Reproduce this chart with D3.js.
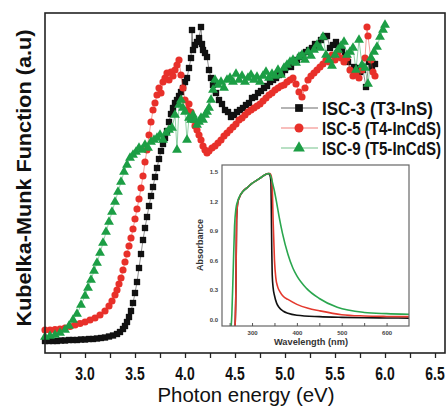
<!DOCTYPE html>
<html><head><meta charset="utf-8">
<script src="https://cdn.jsdelivr.net/npm/d3@7"></script>
<style>
body{margin:0;background:#fff}
svg text{font-family:"Liberation Sans",Arial,sans-serif}
</style>
</head><body>
<svg id="chart" width="446" height="407"></svg>
<script>
// ---------- main chart data: photon energy (eV) vs Kubelka-Munk function (a.u.) ----------
const energyISC3 = [2.60,2.64,2.68,2.72,2.76,2.80,2.84,2.88,2.92,2.96,3.00,3.04,3.08,3.12,3.16,3.20,3.24,3.28,3.32,
 3.35,3.38,
 3.40,3.42,3.44,3.46,3.48,3.50,3.52,3.54,3.56,3.58,3.60,3.62,3.64,3.66,3.68,3.70,3.72,3.74,3.76,3.78,3.80,3.82,3.84,3.86,3.88,3.90,3.92,3.94,3.96,3.98,4.00,4.02,4.04,4.06,
 4.07,4.08,4.10,4.12,4.14,4.16,4.17,4.18,
 4.20,4.22,4.24,4.26,4.28,
 4.31,4.34,4.37,4.40,4.43,4.46,4.49,4.52,4.55,4.58,4.61,4.64,4.67,4.70,4.73,4.76,4.79,4.82,4.85,4.88,4.91,4.94,4.97,5.00,5.03,5.06,5.09,5.12,5.15,5.18,5.21,5.24,5.27,5.30,5.33,5.36,5.39,5.42,5.45,5.48,5.51,5.54,5.57,5.60,5.63,5.66,5.69,5.72,5.75,5.78,5.81,5.84,5.87,5.90];
const kmISC3 = [12,12,12,12,12.5,12.5,13,13,13,13.5,13.5,14,14,14.5,15,15.5,16.5,17.5,19,
 21,24,
 27,31,36,42,50,60,71,85,99,113,125,136,147,157,166,176,185,194,202,209,215,222,231,239,245,250,253,257,261,265,271,275,285,295,
 323,303,308,311,315,326,309,303,
 300,296,283,275,268,
 260,253,249,243,241,236,238,241,243,245,248,250,255,256,260,262,265,267,271,273,275,278,280,283,287,286,291,293,296,298,301,303,305,309,307,313,316,317,305,308,311,307,303,297,291,283,286,285,281,283,266,291,285,289];

const energyISC5 = [2.60,2.65,2.70,2.75,2.80,2.85,2.90,2.95,3.00,3.05,3.10,3.15,3.20,3.24,3.27,3.30,
 3.32,3.34,3.36,3.38,3.40,3.42,3.44,3.46,3.48,3.50,3.52,3.54,3.56,3.58,3.60,3.62,3.64,3.66,3.68,3.70,3.72,3.74,3.76,3.78,3.80,3.82,3.84,3.86,3.88,3.90,3.92,3.94,3.96,3.98,4.00,4.02,4.04,4.06,4.08,4.10,4.12,4.14,4.16,4.18,4.20,4.22,
 4.24,
 4.27,4.30,4.33,4.36,4.39,4.42,4.45,4.48,4.51,4.54,4.57,4.60,4.63,4.66,4.69,4.72,4.75,4.78,4.81,4.84,4.87,4.90,4.93,4.96,4.99,5.02,5.05,5.08,5.11,5.14,5.17,5.20,5.23,5.26,5.29,5.32,5.35,5.38,5.41,5.44,5.47,5.50,5.53,5.56,5.59,5.62,5.65,5.68,5.71,5.74,5.77,5.80,
 5.82,5.83,5.86,5.88,5.90];
const kmISC5 = [23,23,23.5,24,25,26.5,28,29.5,31,33,35,38,42,47,52,58,
 63,69,75,83,91,99,107,115,124,134,144,154,165,177,191,203,218,231,243,250,258,265,260,271,275,280,273,281,277,283,288,293,278,265,253,243,249,241,233,227,223,218,213,207,203,200,
 202,
 205,207,210,213,217,220,223,226,229,233,235,238,241,243,245,247,249,252,255,258,260,263,265,267,268,271,273,275,269,261,256,265,273,277,280,283,286,289,293,291,298,293,301,295,291,295,283,277,280,275,283,295,
 326,317,293,281,277];

const energyISC9 = [2.60,2.65,2.70,2.75,2.80,
 2.84,2.88,2.92,2.96,3.00,
 3.03,3.06,3.09,3.12,3.15,3.18,3.21,3.24,3.27,3.30,3.33,3.36,3.39,3.42,3.45,3.48,3.51,3.54,3.57,3.60,3.63,3.66,3.69,3.72,3.75,3.78,3.81,3.84,3.87,3.90,
 3.92,3.94,3.96,3.98,4.00,4.02,4.04,4.06,4.08,4.10,4.12,4.14,4.16,4.18,4.20,4.22,4.24,4.26,4.28,4.30,
 4.33,4.36,4.39,4.42,4.45,4.48,4.51,4.54,4.57,4.60,4.63,4.66,4.69,4.72,4.75,4.78,4.81,4.84,4.87,4.90,4.93,4.96,4.99,5.02,5.05,5.08,5.11,5.14,5.17,5.20,5.23,5.26,5.29,5.32,5.35,5.38,5.41,5.44,5.47,5.50,5.53,5.56,5.59,5.62,5.65,5.68,5.71,5.74,5.77,5.80,5.83,5.86,5.89,5.92,5.95,5.98,
 6.00];
const kmISC9 = [16,17,18,20,23,
 27,33,39,48,57,
 65,73,82,90,100,110,121,131,141,151,161,171,181,188,195,198,201,205,203,208,205,211,213,215,218,213,220,223,225,238,
 203,248,253,245,241,213,235,233,238,233,228,231,235,233,238,241,245,253,263,273,
 268,271,265,273,275,271,279,273,277,271,275,278,273,276,271,277,281,275,279,277,283,278,285,288,291,293,290,296,298,293,301,297,303,308,305,316,298,293,287,298,303,307,311,298,301,305,283,313,288,285,269,295,301,306,316,323,
 328];

const seriesNames = ["ISC-3 (T3-InS)", "ISC-5 (T4-InCdS)", "ISC-9 (T5-InCdS)"];
const seriesColors = ["#111111", "#e8302a", "#1c9e45"];
const seriesShapes = ["square", "circle", "triangle"];

const energyTicks = [2.75,3.0,3.25,3.5,3.75,4.0,4.25,4.5,4.75,5.0,5.25,5.5,5.75,6.0,6.25,6.5];
const energyTickLabels = ["", "3.0", "", "3.5", "", "4.0", "", "4.5", "", "5.0", "", "5.5", "", "6.0", "", "6.5"];

// ---------- inset data: wavelength (nm) vs absorbance ----------
const insetWlISC3 = [262,264,265.5,268,272,280,290,300,310,320,330,336,340,342,343,344,345,347,350,355,360,370,380,400,450,500,550,600,650];
const insetAbsISC3 = [-0.1,0.3,1.0,1.18,1.24,1.30,1.34,1.38,1.41,1.44,1.47,1.48,1.46,1.40,1.10,0.70,0.45,0.32,0.24,0.16,0.12,0.08,0.06,0.04,0.025,0.018,0.014,0.012,0.01];
const insetWlISC5 = [262,264,265.5,268,272,280,290,300,310,320,330,336,340,343,345,347,350,353,357,362,370,380,400,425,450,500,550,600,650];
const insetAbsISC5 = [-0.1,0.3,1.0,1.18,1.24,1.30,1.34,1.38,1.41,1.44,1.47,1.48,1.48,1.45,1.35,1.0,0.6,0.42,0.33,0.28,0.23,0.2,0.15,0.11,0.085,0.045,0.032,0.027,0.025];
const insetWlISC9 = [253,255,258,261,264,268,275,280,290,300,310,320,330,338,342,346,350,355,360,368,380,391,400,422,450,490,550,600,650];
const insetAbsISC9 = [-0.1,0.05,0.5,0.95,1.12,1.2,1.27,1.30,1.34,1.38,1.41,1.44,1.47,1.48,1.45,1.38,1.3,1.18,1.05,0.87,0.66,0.52,0.44,0.31,0.21,0.12,0.068,0.056,0.05];

const insetYTicks = [0, 0.3, 0.6, 0.9, 1.2, 1.5];
const insetYTickLabels = ["0.0", "0.3", "0.6", "0.9", "1.2", "1.5"];
const insetXTicks = [250, 300, 350, 400, 450, 500, 550, 600];
const insetXTickLabels = ["", "300", "", "400", "", "500", "", "600"];

// ---------- drawing ----------
const svg = d3.select("#chart");
const W = 446, H = 407;
const M = {left: 45, right: 445, top: 13, bottom: 353};

const x = d3.scaleLinear().domain([2.6, 6.6]).range([M.left, M.right]);
const y = d3.scaleLinear().domain([0, 340]).range([M.bottom, M.top]);

svg.append("rect").attr("width", W).attr("height", H).attr("fill", "#fff");

const main = [
  {name: seriesNames[0], e: energyISC3, v: kmISC3, color: seriesColors[0], shape: seriesShapes[0]},
  {name: seriesNames[1], e: energyISC5, v: kmISC5, color: seriesColors[1], shape: seriesShapes[1]},
  {name: seriesNames[2], e: energyISC9, v: kmISC9, color: seriesColors[2], shape: seriesShapes[2]}
];

const symbolFor = s => s === "square" ? d3.symbolSquare : s === "circle" ? d3.symbolCircle : d3.symbolTriangle;
const sizeFor = s => s === "square" ? 40 : s === "circle" ? 40 : 42;

const plotG = svg.append("g");
main.forEach(s => {
  const pts = s.e.map((e, i) => [e, s.v[i]]);
  plotG.append("path")
    .attr("d", d3.line().x(d => x(d[0])).y(d => y(d[1]))(pts))
    .attr("fill", "none").attr("stroke", s.color).attr("stroke-width", 0.8).attr("stroke-opacity", 0.6);
  plotG.append("g").selectAll("path").data(pts).join("path")
    .attr("transform", d => `translate(${x(d[0])},${y(d[1])})`)
    .attr("d", d3.symbol().type(symbolFor(s.shape)).size(sizeFor(s.shape)))
    .attr("fill", s.color);
});

// frame
svg.append("rect").attr("x", M.left).attr("y", M.top)
  .attr("width", M.right - M.left).attr("height", M.bottom - M.top)
  .attr("fill", "none").attr("stroke", "#222").attr("stroke-width", 1.6);

// bottom axis (ticks from d3 axis, labels placed at the same scale positions)
const xAxis = d3.axisBottom(x).tickValues(energyTicks).tickFormat("").tickSize(5);
const xg = svg.append("g").attr("transform", `translate(0,${M.bottom})`).call(xAxis);
xg.select(".domain").remove();
xg.selectAll(".tick line").attr("stroke", "#222").attr("stroke-width", 1.3);
svg.append("g").selectAll("text").data(energyTicks.filter((d, i) => energyTickLabels[i]))
  .join("text")
  .attr("transform", d => `translate(${x(d)},379.5) scale(0.9,1.15)`)
  .attr("text-anchor", "middle").attr("font-size", 15.5).attr("font-weight", "bold").attr("fill", "#111")
  .text(d => energyTickLabels[energyTicks.indexOf(d)]);

// axis titles
svg.append("text").attr("x", 246).attr("y", 402).attr("text-anchor", "middle")
  .attr("font-size", 20).attr("fill", "#111").attr("textLength", 177).attr("lengthAdjust", "spacingAndGlyphs")
  .text("Photon energy (eV)");
svg.append("text").attr("transform", "translate(31,178) rotate(-90)").attr("text-anchor", "middle")
  .attr("font-size", 21).attr("font-weight", "bold").attr("fill", "#111")
  .attr("textLength", 297).attr("lengthAdjust", "spacingAndGlyphs")
  .text("Kubelka-Munk Function (a.u)");

// legend
const legendRows = [108, 128, 148];
const legendWidths = [111, 119, 119];
main.forEach((s, i) => {
  const g = svg.append("g").attr("transform", `translate(0,${legendRows[i]})`);
  g.append("line").attr("x1", 281).attr("x2", 318).attr("y1", 0).attr("y2", 0)
    .attr("stroke", s.color).attr("stroke-width", 0.9).attr("stroke-opacity", 0.7);
  g.append("path").attr("transform", "translate(299,0)")
    .attr("d", d3.symbol().type(symbolFor(s.shape)).size(s.shape === "circle" ? 64 : 60)).attr("fill", s.color);
  g.append("text").attr("transform", "translate(322,6.5) scale(1,1.18)")
    .attr("font-size", 15).attr("font-weight", "bold")
    .attr("fill", "#111").attr("textLength", legendWidths[i]).attr("lengthAdjust", "spacingAndGlyphs")
    .text(s.name);
});

// ---------- inset ----------
const I = {left: 222, right: 409, top: 165, bottom: 326};
const ix = d3.scaleLinear().domain([233, 650]).range([I.left, I.right]);
const iy = d3.scaleLinear().domain([-0.07, 1.567]).range([I.bottom, I.top]);
svg.append("rect").attr("x", I.left).attr("y", I.top).attr("width", I.right - I.left).attr("height", I.bottom - I.top)
  .attr("fill", "#fff");
svg.append("clipPath").attr("id", "iclip").append("rect")
  .attr("x", I.left).attr("y", I.top).attr("width", I.right - I.left).attr("height", I.bottom - I.top);
const inset = [
  {wl: insetWlISC3, a: insetAbsISC3, color: "#111111"},
  {wl: insetWlISC5, a: insetAbsISC5, color: "#e4392e"},
  {wl: insetWlISC9, a: insetAbsISC9, color: "#2aa64e"}
];
const ig = svg.append("g").attr("clip-path", "url(#iclip)");
inset.forEach(s => {
  ig.append("path")
    .attr("d", d3.line().curve(d3.curveMonotoneX).x(d => ix(d[0])).y(d => iy(d[1]))(s.wl.map((w, i) => [w, s.a[i]])))
    .attr("fill", "none").attr("stroke", s.color).attr("stroke-width", 1.6);
});
svg.append("rect").attr("x", I.left).attr("y", I.top).attr("width", I.right - I.left).attr("height", I.bottom - I.top)
  .attr("fill", "none").attr("stroke", "#666").attr("stroke-width", 1.2);

const ixAxis = d3.axisBottom(ix).tickValues(insetXTicks).tickFormat((d, i) => insetXTickLabels[i]).tickSize(-3).tickPadding(5);
const ixg = svg.append("g").attr("transform", `translate(0,${I.bottom})`).call(ixAxis);
ixg.select(".domain").remove();
ixg.selectAll(".tick line").attr("stroke", "#555");
ixg.selectAll(".tick text").attr("font-size", 6).attr("font-weight", "bold").attr("fill", "#444");

const iyAxis = d3.axisLeft(iy).tickValues(insetYTicks).tickFormat((d, i) => insetYTickLabels[i]).tickSize(0).tickPadding(4);
const iyg = svg.append("g").attr("transform", `translate(${I.left},0)`).call(iyAxis);
iyg.select(".domain").remove();
iyg.selectAll(".tick text").attr("font-size", 6).attr("font-weight", "bold").attr("fill", "#444");

svg.append("text").attr("x", 311).attr("y", 345).attr("text-anchor", "middle")
  .attr("font-size", 9.5).attr("font-weight", "bold").attr("fill", "#333").attr("textLength", 74).attr("lengthAdjust", "spacingAndGlyphs")
  .text("Wavelength (nm)");
svg.append("text").attr("transform", "translate(203,245) rotate(-90)").attr("text-anchor", "middle")
  .attr("font-size", 9).attr("font-weight", "bold").attr("fill", "#333")
  .text("Absorbance");
</script>
</body></html>
